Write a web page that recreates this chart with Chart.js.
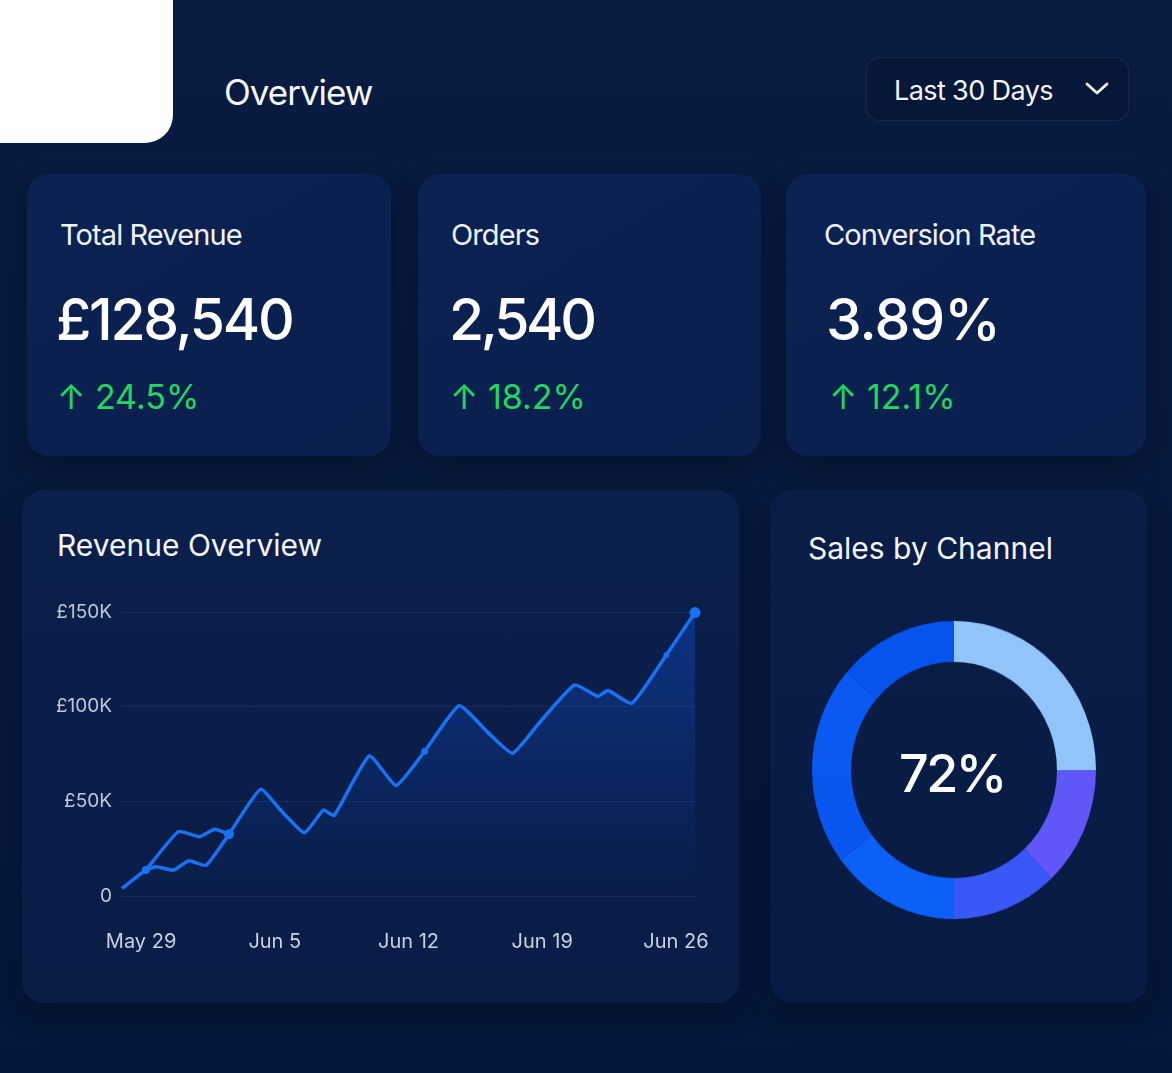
<!DOCTYPE html>
<html>
<head>
<meta charset="utf-8">
<script src="https://cdn.jsdelivr.net/npm/chart.js@4.4.1/dist/chart.umd.min.js"></script>
<style>
  html, body { margin: 0; padding: 0; }
  body {
    width: 1172px; height: 1073px; overflow: hidden; position: relative;
    background: linear-gradient(180deg, #091b40 0%, #071a3d 55%, #04173a 100%);
    font-family: Inter, "Noto Sans", sans-serif; color: #f4f6fb;
  }
  .abs { position: absolute; }
  .logo { left: 0; top: 0; width: 173px; height: 143px; background: #fdfdfe; border-bottom-right-radius: 28px; }
  .t { line-height: 1; white-space: nowrap; }
  .card {
    border-radius: 22px;
    background: linear-gradient(150deg, #0c2253 0%, #0a204f 55%, #0a1f4c 100%);
    box-shadow: 0 10px 26px rgba(1, 8, 26, 0.45);
  }
  .panel {
    border-radius: 22px;
    box-shadow: 0 10px 26px rgba(1, 8, 26, 0.45);
  }
  .dd {
    left: 866px; top: 57px; width: 263px; height: 64px; box-sizing: border-box;
    border-radius: 14px; border: 1.5px solid rgba(120, 150, 210, 0.15);
    background: rgba(6, 20, 50, 0.5);
  }
  .lbl { font-size: 29px; color: #eef2f8; letter-spacing: -0.9px; }
  .val { font-size: 57px; color: #ffffff; font-weight: 500; letter-spacing: -1px; }
  .delta { font-size: 34px; color: #22d65e; }
</style>
</head>
<body>
  <div class="abs logo"></div>
  <div class="abs t" style="left:224px; top:75px; font-size:35px; color:#f6f8fc; letter-spacing:-1px;">Overview</div>

  <div class="abs dd"></div>
  <div class="abs t" style="left:894px; top:77px; font-size:27px; color:#f3f6fb; letter-spacing:-0.6px;">Last 30 Days</div>
  <svg class="abs" style="left:1084px; top:81px;" width="26" height="16" viewBox="0 0 26 16">
    <polyline points="3,3 13,12 23,3" fill="none" stroke="#f3f6fb" stroke-width="2.8" stroke-linecap="round" stroke-linejoin="round"/>
  </svg>

  <div class="abs card" style="left:27px; top:174px; width:364px; height:282px;"></div>
  <div class="abs card" style="left:418px; top:174px; width:343px; height:282px;"></div>
  <div class="abs card" style="left:786px; top:174px; width:360px; height:282px;"></div>

  <div class="abs t lbl" style="left:60px; top:220px;">Total Revenue</div>
  <div class="abs t val" style="left:56px; top:291px; letter-spacing:-2.3px;">£128,540</div>
  <div class="abs t delta" style="left:57px; top:380px;">↑ 24.5%</div>

  <div class="abs t lbl" style="left:451px; top:220px;">Orders</div>
  <div class="abs t val" style="left:449px; top:291px; letter-spacing:-3.3px;">2,540</div>
  <div class="abs t delta" style="left:450px; top:380px;">↑ 18.2%</div>

  <div class="abs t lbl" style="left:824px; top:220px;">Conversion Rate</div>
  <div class="abs t val" style="left:826px; top:291px;">3.89%</div>
  <div class="abs t delta" style="left:829px; top:380px;">↑ 12.1%</div>

  <div class="abs panel" style="left:22px; top:490px; width:717px; height:513px; background:linear-gradient(180deg,#0b1f4b 0%,#091d47 100%);"></div>
  <div class="abs panel" style="left:770px; top:490px; width:377px; height:513px; background:linear-gradient(180deg,#0a1d47 0%,#081b44 100%);"></div>

  <div class="abs t" style="left:57px; top:530px; font-size:30px; color:#f4f6fb;">Revenue Overview</div>
  <div class="abs t" style="left:808px; top:533px; font-size:30px; color:#f4f6fb;">Sales by Channel</div>

  <div class="abs" style="left:40px; top:590px; width:680px; height:390px;"><canvas id="line"></canvas></div>

  <div class="abs" style="left:812px; top:628px; width:284px; height:284px; transform:scaleY(1.05); transform-origin:50% 50%;"><canvas id="donut"></canvas></div>
  <div class="abs t" style="left:852px; width:200px; text-align:center; top:748px; font-size:52px; color:#ffffff; font-weight:500; letter-spacing:-2.5px;">72%</div>

<script>
// ---- Revenue series (x = days after May 28, y = revenue in £K) ----
const revenueDays   = [0, 1.25, 1.8, 2.7, 3.5, 4.4, 5.6, 7.25, 8.3, 9.55, 10.55, 11.1, 12.95, 14.35, 15.85, 17.65, 19.2, 20.45, 21.85, 23.7, 24.9, 25.45, 26.7, 28.5, 30];
const revenueValues = [4, 13.7, 15.5, 13.7, 18.6, 16.2, 32.6, 56.4, 45.4, 33.4, 45.4, 42.5, 74.0, 58.4, 76.5, 100.5, 85.9, 75.4, 91.5, 111.5, 105.5, 108.5, 101.8, 127.3, 149.7];
// the small loop drawn above the first few days
const loopDays   = [1.25, 2.95, 4.05, 4.85, 5.6];
const loopValues = [13.7, 34.0, 31.3, 35.2, 32.6];
const revenueMarkerSizes = [0, 4, 0, 0, 0, 0, 5, 0, 2, 0, 0, 0, 0, 0, 3.5, 0, 2, 0, 2, 0, 0, 0, 0, 3, 5.5];

const xTickDays   = [1, 8, 15, 22, 29];
const xTickLabels = ['May 29', 'Jun 5', 'Jun 12', 'Jun 19', 'Jun 26'];
const yTickValues = [0, 50, 100, 150];
const yTickLabels = ['0', '£50K', '£100K', '£150K'];

// ---- Sales by channel ----
const channelLabels = ['Channel 1', 'Channel 2', 'Channel 3', 'Channel 4', 'Channel 5', 'Channel 6', 'Channel 7'];
const channelShares = [25, 13, 12, 14.7, 10.3, 11.4, 13.6];
const channelColors = ['#92c4fb', '#5f57f7', '#3a58f7', '#0b60f8', '#0956f0', '#0a59f2', '#0654ed'];

const lineBlue = '#1971f3';

new Chart(document.getElementById('line'), {
  type: 'line',
  data: {
    datasets: [
      {
        data: revenueDays.map((d, i) => ({ x: d, y: revenueValues[i] })),
        borderColor: lineBlue, borderWidth: 3.5,
        tension: 0.15,
        pointRadius: revenueMarkerSizes, pointBackgroundColor: lineBlue, pointBorderWidth: 0,
        fill: 'origin',
        backgroundColor: (ctx) => {
          const { chart } = ctx; const area = chart.chartArea;
          if (!area) return 'rgba(20,90,230,0.2)';
          const g = chart.ctx.createLinearGradient(0, area.top, 0, area.bottom);
          g.addColorStop(0, 'rgba(16,88,230,0.36)');
          g.addColorStop(0.6, 'rgba(16,88,230,0.14)');
          g.addColorStop(1, 'rgba(16,88,230,0.0)');
          return g;
        },
        clip: false
      },
      {
        data: loopDays.map((d, i) => ({ x: d, y: loopValues[i] })),
        borderColor: lineBlue, borderWidth: 3.5, tension: 0.15,
        pointRadius: 0, fill: false, clip: false
      }
    ]
  },
  options: {
    responsive: true, maintainAspectRatio: false, animation: false,
    layout: { padding: { left: 17, right: 25, top: 22, bottom: 24 } },
    plugins: { legend: { display: false }, tooltip: { enabled: false } },
    scales: {
      x: {
        type: 'linear', min: 0, max: 30,
        afterBuildTicks: (axis) => { axis.ticks = xTickDays.map(v => ({ value: v })); },
        afterFit: (axis) => { axis.height = 60; axis.paddingLeft = 0; axis.paddingRight = 0; },
        ticks: {
          autoSkip: false, maxRotation: 0, padding: 34,
          color: '#c9d1e2', font: { family: 'Inter', size: 20 },
          callback: (v) => xTickLabels[xTickDays.indexOf(v)]
        },
        grid: { display: false, drawTicks: false },
        border: { display: false }
      },
      y: {
        min: 0, max: 150,
        afterBuildTicks: (axis) => { axis.ticks = yTickValues.map(v => ({ value: v })); },
        afterFit: (axis) => { axis.width = 65; axis.paddingTop = 0; axis.paddingBottom = 0; },
        ticks: {
          padding: 10, color: '#bfc8db', font: { family: 'Inter', size: 19 },
          callback: (v) => yTickLabels[yTickValues.indexOf(v)]
        },
        grid: { color: 'rgba(95,135,215,0.15)', lineWidth: 1, drawTicks: false },
        border: { display: false }
      }
    }
  }
});

new Chart(document.getElementById('donut'), {
  type: 'doughnut',
  data: {
    labels: channelLabels,
    datasets: [{ data: channelShares, backgroundColor: channelColors, borderWidth: 0 }]
  },
  options: {
    responsive: true, maintainAspectRatio: false, animation: false,
    cutout: '72.5%',
    layout: { padding: 0 },
    plugins: { legend: { display: false }, tooltip: { enabled: false } }
  }
});
</script>
</body>
</html>
